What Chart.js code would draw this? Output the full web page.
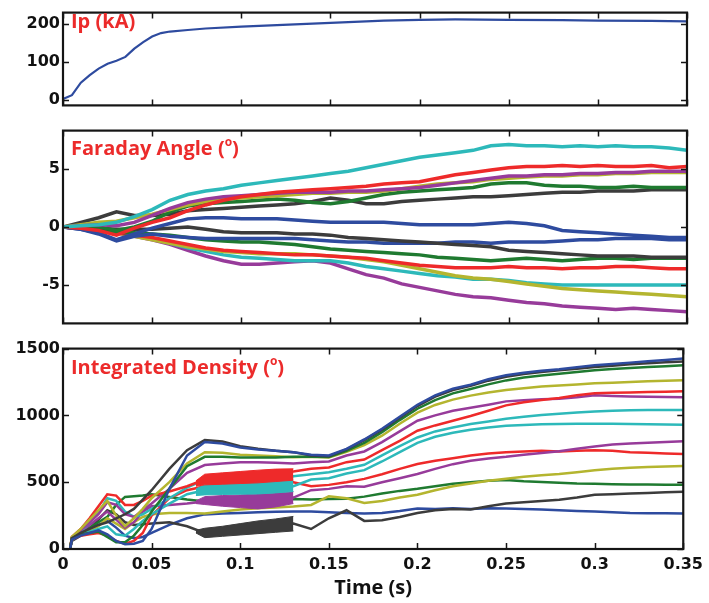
<!DOCTYPE html>
<html>
<head>
<meta charset="utf-8">
<script src="https://cdn.jsdelivr.net/npm/chart.js@4.4.0/dist/chart.umd.min.js"></script>
<style>
body { margin: 0; background: #fff; }
#wrap { position: relative; width: 709px; height: 603px; overflow: hidden; }
canvas { position: absolute; left: 0; }
.lbl { position: absolute; left: 71px; font-family: 'Open Sans', sans-serif; font-weight: bold; font-size: 20px; line-height: 20px; color: #ec2b2b; white-space: nowrap; }
.lbl sup { font-size: 12px; line-height: 0; vertical-align: 9px; }
</style>
</head>
<body>
<div id="wrap">
  <canvas id="ipC" width="709" height="118" style="top:0px"></canvas>
  <canvas id="farC" width="709" height="218" style="top:118px"></canvas>
  <canvas id="denC" width="709" height="267" style="top:336px"></canvas>
  <div class="lbl" style="top:11px">Ip (kA)</div>
  <div class="lbl" style="top:138px">Faraday Angle (<sup>o</sup>)</div>
  <div class="lbl" style="top:357px">Integrated Density (<sup>o</sup>)</div>
</div>
<script>
// ---- data ----
var xTicks = [0, 0.05, 0.1, 0.15, 0.2, 0.25, 0.3, 0.35];

// plasma current
var ipTimes = [0, .005, .01, .015, .02, .025, .03, .035, .04, .045, .05, .055, .06, .07, .08, .1, .12, .14, .16, .18, .2, .22, .25, .28, .3, .33, .35];
var ipVals = [2, 12, 45, 65, 82, 95, 103, 113, 135, 152, 167, 176, 180, 184, 188, 193, 197, 201, 205, 209, 211, 212, 211, 210, 209, 208, 207];

// faraday angle, one sample every 10 ms
var farTimes = [0, .01, .02, .03, .04, .05, .06, .07, .08, .09, .10, .11, .12, .13, .14, .15, .16, .17, .18, .19, .20, .21, .22, .23, .24, .25, .26, .27, .28, .29, .30, .31, .32, .33, .34, .35];
var farCyanU = [0, 0.1, 0.2, 0.4, 0.9, 1.5, 2.3, 2.8, 3.1, 3.3, 3.6, 3.8, 4.0, 4.2, 4.4, 4.6, 4.8, 5.1, 5.4, 5.7, 6.0, 6.2, 6.4, 6.6, 7.0, 7.1, 7.0, 7.0, 6.9, 7.0, 6.9, 7.0, 6.9, 6.9, 6.8, 6.6];
var farRedU = [0, -0.1, -0.3, -0.7, -0.1, 0.4, 0.8, 1.4, 1.9, 2.3, 2.6, 2.8, 3.0, 3.1, 3.2, 3.3, 3.4, 3.5, 3.7, 3.8, 3.9, 4.2, 4.5, 4.7, 4.9, 5.1, 5.2, 5.2, 5.3, 5.2, 5.3, 5.2, 5.2, 5.3, 5.1, 5.2];
var farPurpleU = [0, 0.1, 0.2, 0.1, 0.4, 1.0, 1.6, 2.1, 2.4, 2.6, 2.7, 2.8, 2.9, 3.0, 3.0, 3.0, 3.1, 3.1, 3.2, 3.3, 3.4, 3.6, 3.8, 4.0, 4.2, 4.4, 4.4, 4.5, 4.5, 4.6, 4.6, 4.7, 4.7, 4.8, 4.8, 4.8];
var farOliveU = [0, 0.2, 0.4, 0.5, 0.8, 1.1, 1.5, 1.9, 2.2, 2.4, 2.5, 2.6, 2.7, 2.8, 2.9, 2.9, 3.0, 3.0, 3.1, 3.3, 3.5, 3.7, 3.8, 3.9, 4.1, 4.2, 4.3, 4.4, 4.4, 4.5, 4.5, 4.6, 4.6, 4.7, 4.7, 4.7];
var farGreenU = [0, 0.1, 0.0, -0.3, 0.0, 0.5, 1.3, 1.8, 2.0, 2.1, 2.2, 2.3, 2.4, 2.3, 2.1, 2.0, 2.2, 2.5, 2.8, 3.0, 3.1, 3.2, 3.3, 3.4, 3.7, 3.8, 3.8, 3.6, 3.5, 3.5, 3.4, 3.4, 3.5, 3.4, 3.4, 3.4];
var farGrayU = [0, 0.4, 0.8, 1.3, 1.0, 1.0, 1.1, 1.4, 1.5, 1.6, 1.7, 1.8, 1.9, 2.0, 2.2, 2.5, 2.3, 2.0, 2.0, 2.2, 2.3, 2.4, 2.5, 2.6, 2.6, 2.7, 2.8, 2.9, 3.0, 3.0, 3.1, 3.1, 3.1, 3.2, 3.2, 3.2];
var farBlueU = [0, -0.2, -0.5, -1.1, -0.6, -0.1, 0.3, 0.7, 0.8, 0.8, 0.7, 0.7, 0.7, 0.6, 0.5, 0.4, 0.4, 0.4, 0.4, 0.3, 0.2, 0.2, 0.2, 0.2, 0.3, 0.4, 0.3, 0.1, -0.3, -0.4, -0.5, -0.6, -0.7, -0.8, -0.9, -0.9];
var farGrayL = [0, -0.1, -0.1, -0.2, -0.2, -0.2, -0.1, 0.0, -0.2, -0.4, -0.5, -0.5, -0.5, -0.6, -0.6, -0.7, -0.9, -1.0, -1.1, -1.2, -1.3, -1.4, -1.5, -1.6, -1.7, -2.0, -2.1, -2.2, -2.3, -2.4, -2.5, -2.5, -2.5, -2.6, -2.6, -2.6];
var farBlueL = [0, -0.2, -0.6, -1.2, -0.8, -0.6, -0.8, -0.9, -1.0, -1.0, -1.0, -1.0, -1.0, -1.0, -1.1, -1.2, -1.3, -1.3, -1.4, -1.4, -1.4, -1.4, -1.3, -1.3, -1.4, -1.3, -1.3, -1.3, -1.2, -1.1, -1.1, -1.0, -1.0, -1.0, -1.1, -1.1];
var farGreenL = [0, 0.0, -0.2, -0.5, -0.5, -0.6, -0.7, -0.9, -1.1, -1.2, -1.3, -1.3, -1.4, -1.5, -1.7, -1.9, -2.0, -2.1, -2.2, -2.3, -2.4, -2.6, -2.7, -2.8, -2.9, -2.8, -2.7, -2.8, -2.9, -2.8, -2.7, -2.7, -2.8, -2.7, -2.7, -2.7];
var farRedL = [0, -0.1, -0.2, -0.5, -0.7, -0.9, -1.2, -1.5, -1.8, -2.0, -2.1, -2.2, -2.3, -2.4, -2.4, -2.5, -2.6, -2.7, -2.9, -3.1, -3.3, -3.4, -3.5, -3.5, -3.5, -3.4, -3.5, -3.5, -3.6, -3.5, -3.5, -3.4, -3.4, -3.5, -3.6, -3.6];
var farOliveL = [0, -0.1, -0.3, -0.5, -0.8, -1.1, -1.4, -1.7, -1.9, -2.1, -2.2, -2.3, -2.3, -2.3, -2.4, -2.5, -2.6, -2.8, -3.0, -3.3, -3.6, -3.9, -4.2, -4.4, -4.5, -4.7, -4.9, -5.1, -5.3, -5.4, -5.5, -5.6, -5.7, -5.8, -5.9, -6.0];
var farCyanL = [0, 0.1, 0.0, -0.4, -0.7, -1.0, -1.4, -1.8, -2.1, -2.4, -2.6, -2.7, -2.8, -2.9, -2.9, -2.9, -3.1, -3.4, -3.6, -3.8, -4.0, -4.2, -4.3, -4.5, -4.5, -4.6, -4.8, -4.9, -5.0, -5.0, -5.0, -5.0, -5.0, -5.0, -5.0, -5.0];
var farPurpleL = [0, -0.1, -0.2, -0.5, -0.8, -1.1, -1.5, -2.0, -2.5, -2.9, -3.2, -3.2, -3.1, -3.0, -2.9, -3.1, -3.6, -4.1, -4.4, -4.9, -5.2, -5.5, -5.8, -6.0, -6.1, -6.3, -6.5, -6.6, -6.8, -6.9, -7.0, -7.1, -7.0, -7.1, -7.2, -7.3];

// integrated density: starts at 4 ms, 5 ms steps early then 10 ms
var denTimes = [.004, .005, .01, .015, .02, .025, .03, .035, .04, .045, .05, .06, .07, .08, .09, .10, .11, .12, .13, .14, .15, .16, .17, .18, .19, .20, .21, .22, .23, .24, .25, .26, .27, .28, .29, .30, .31, .32, .33, .34, .35];
var denBlueTop = [0, 70, 100, 120, 140, 110, 60, 35, 40, 60, 150, 450, 700, 800, 790, 760, 745, 735, 725, 705, 700, 750, 820, 900, 990, 1080, 1150, 1200, 1230, 1270, 1300, 1320, 1335, 1345, 1360, 1375, 1385, 1395, 1405, 1415, 1426];
var denGrayTop = [0, 80, 120, 150, 180, 200, 230, 260, 300, 370, 440, 600, 740, 815, 805, 770, 750, 735, 725, 700, 695, 745, 815, 893, 983, 1070, 1140, 1190, 1222, 1260, 1290, 1310, 1325, 1337, 1350, 1362, 1372, 1382, 1390, 1397, 1404];
var denGreenTop = [0, 80, 110, 120, 130, 90, 50, 50, 100, 180, 280, 450, 620, 690, 690, 685, 685, 685, 690, 690, 688, 735, 795, 875, 965, 1050, 1115, 1165, 1198, 1232, 1262, 1283, 1298, 1311, 1325, 1338, 1347, 1355, 1362, 1368, 1375];
var denOliveTop = [0, 90, 150, 220, 290, 360, 250, 170, 230, 300, 380, 500, 640, 724, 720, 705, 700, 695, 687, 690, 685, 728, 778, 848, 938, 1020, 1078, 1118, 1148, 1172, 1190, 1204, 1216, 1224, 1232, 1240, 1245, 1250, 1255, 1260, 1264];
var denPurpleTop = [0, 80, 140, 200, 260, 350, 330, 260, 240, 290, 340, 450, 570, 628, 640, 650, 650, 645, 640, 650, 655, 700, 730, 800, 880, 960, 1000, 1035, 1058, 1080, 1105, 1113, 1120, 1125, 1135, 1150, 1146, 1142, 1140, 1138, 1135];
var denRedTop = [0, 90, 150, 230, 320, 410, 400, 330, 330, 360, 400, 430, 470, 520, 535, 550, 560, 570, 580, 600, 610, 650, 670, 740, 810, 885, 925, 960, 995, 1035, 1075, 1098, 1115, 1131, 1150, 1165, 1170, 1172, 1175, 1177, 1180];
var denCyanTop = [0, 80, 130, 200, 270, 380, 360, 280, 240, 260, 300, 380, 460, 520, 530, 540, 545, 545, 545, 560, 575, 600, 630, 700, 770, 835, 880, 910, 935, 955, 975, 990, 1003, 1013, 1022, 1030, 1035, 1038, 1040, 1040, 1040];
var denCyan2 = [0, 70, 110, 130, 150, 170, 110, 100, 150, 210, 260, 340, 410, 440, 450, 460, 465, 470, 470, 520, 530, 565, 590, 655, 725, 795, 840, 870, 893, 910, 922, 928, 933, 936, 938, 938, 937, 935, 933, 932, 930];
var denPurple2 = [0, 80, 130, 180, 230, 280, 220, 160, 200, 280, 320, 330, 340, 355, 365, 370, 375, 380, 385, 440, 450, 470, 466, 500, 530, 562, 600, 635, 660, 678, 690, 705, 718, 732, 750, 768, 783, 790, 795, 800, 806];
var denRed2 = [0, 70, 100, 110, 120, 100, 60, 40, 60, 120, 250, 380, 440, 470, 480, 490, 495, 500, 500, 470, 480, 500, 525, 560, 600, 636, 660, 680, 700, 715, 724, 730, 735, 730, 735, 739, 735, 725, 720, 715, 712];
var denOlive2 = [0, 70, 110, 140, 170, 230, 190, 150, 200, 240, 260, 270, 270, 266, 280, 295, 305, 310, 318, 330, 395, 380, 345, 360, 385, 406, 440, 470, 490, 510, 525, 540, 552, 562, 575, 590, 600, 608, 614, 618, 621];
var denGreen2 = [0, 80, 120, 160, 200, 240, 330, 390, 395, 400, 410, 390, 370, 355, 360, 365, 365, 370, 375, 370, 375, 377, 392, 415, 435, 451, 470, 488, 500, 510, 517, 508, 502, 495, 490, 488, 485, 483, 482, 481, 480];
var denGray2 = [0, 60, 100, 150, 220, 290, 260, 200, 180, 185, 190, 200, 170, 120, 130, 150, 165, 180, 190, 150, 230, 290, 210, 215, 240, 270, 290, 300, 296, 320, 340, 350, 360, 369, 385, 406, 410, 415, 420, 425, 429];
var denBlue2 = [0, 70, 110, 150, 180, 210, 160, 100, 80, 90, 120, 180, 230, 259, 265, 270, 275, 278, 281, 280, 275, 270, 266, 270, 285, 303, 300, 305, 300, 305, 303, 300, 295, 290, 285, 281, 275, 270, 268, 267, 266];

// oscillating stretches 75-130 ms, low and high edge
var bandTimes = [0.075, 0.08, 0.09, 0.10, 0.11, 0.12, 0.13];
var redBandLo = [470, 480, 485, 490, 495, 505, 515];
var redBandHi = [510, 560, 570, 580, 590, 598, 600];
var cyanBandLo = [400, 405, 408, 410, 412, 420, 430];
var cyanBandHi = [450, 480, 495, 510, 520, 530, 540];
var purpleBandLo = [340, 333, 320, 310, 300, 315, 340];
var purpleBandHi = [360, 392, 400, 405, 412, 420, 429];
var grayBandLo = [120, 85, 95, 105, 115, 125, 135];
var grayBandHi = [140, 155, 170, 190, 210, 225, 244];

var col = {
    blue: '#2e4b9f',
    green: '#1f7a30',
    red: '#ee2a2a',
    cyan: '#2db9ba',
    purple: '#973b9a',
    olive: '#b4b52f',
    gray: '#3c3c3c'
};

// ---- helpers ----
function pts(times, vals) {
    return vals.map(function (v, i) { return { x: times[i], y: v }; });
}
function line(color, times, vals, w) {
    return { data: pts(times, vals), borderColor: color, borderWidth: w, pointRadius: 0, fill: false };
}

var tickFont = { family: 'DejaVu Sans', weight: 'bold', size: 16 };

// black box + inward ticks on all four sides
var framePlugin = {
    id: 'frame',
    afterDatasetsDraw: function (chart) {
        var a = chart.chartArea, c = chart.ctx;
        var sx = chart.scales.x, sy = chart.scales.y;
        c.save();
        c.strokeStyle = '#151515';
        c.lineWidth = 1.5;
        c.beginPath();
        sx.ticks.forEach(function (t) {
            var p = Math.round(sx.getPixelForValue(t.value)) + 0.5;
            c.moveTo(p, a.bottom); c.lineTo(p, a.bottom - 6);
            c.moveTo(p, a.top); c.lineTo(p, a.top + 6);
        });
        sy.ticks.forEach(function (t) {
            var p = Math.round(sy.getPixelForValue(t.value)) + 0.5;
            c.moveTo(a.left, p); c.lineTo(a.left + 6, p);
            c.moveTo(a.right, p); c.lineTo(a.right - 6, p);
        });
        c.stroke();
        c.lineWidth = 2.2;
        c.strokeRect(a.left, a.top, a.right - a.left, a.bottom - a.top);
        c.restore();
    }
};

function xScale(showLabels) {
    return {
        type: 'linear', min: 0, max: 0.35,
        grid: { display: false, drawTicks: false },
        border: { display: false },
        afterBuildTicks: function (s) { s.ticks = xTicks.map(function (v) { return { value: v }; }); },
        afterFit: function (s) { s.height = showLabels ? 51 : 0; },
        ticks: {
            display: showLabels, padding: 6, color: '#111', font: tickFont, maxRotation: 0,
            callback: function (v) { return String(+v.toFixed(2)); }
        },
        title: {
            display: showLabels, text: 'Time (s)', color: '#111',
            font: { family: 'Open Sans', weight: 'bold', size: 20 },
            padding: { top: 0, bottom: 0 }
        }
    };
}
function yScale(min, max, vals) {
    return {
        min: min, max: max,
        grid: { display: false, drawTicks: false },
        border: { display: false },
        afterBuildTicks: function (s) { s.ticks = vals.map(function (v) { return { value: v }; }); },
        afterFit: function (s) { s.width = 63; },
        ticks: { padding: 3, color: '#111', font: tickFont, callback: function (v) { return String(v); } }
    };
}
function baseOptions(pad, xs, ys) {
    return {
        responsive: false,
        animation: false,
        events: [],
        layout: { padding: pad },
        plugins: { legend: { display: false }, tooltip: { enabled: false } },
        scales: { x: xs, y: ys }
    };
}

// ---- Ip ----
new Chart(document.getElementById('ipC'), {
    type: 'line',
    data: { datasets: [line(col.blue, ipTimes, ipVals, 2.2)] },
    options: baseOptions({ top: 8, bottom: 7, left: 0, right: 22 }, xScale(false), yScale(-15, 230, [0, 100, 200])),
    plugins: [framePlugin]
});

// ---- Faraday angle ----
var W2 = 3.5;
new Chart(document.getElementById('farC'), {
    type: 'line',
    data: {
        datasets: [
            line(col.cyan, farTimes, farCyanU, W2),
            line(col.red, farTimes, farRedU, W2),
            line(col.purple, farTimes, farPurpleU, W2),
            line(col.olive, farTimes, farOliveU, W2),
            line(col.green, farTimes, farGreenU, W2),
            line(col.gray, farTimes, farGrayU, W2),
            line(col.blue, farTimes, farBlueU, W2),
            line(col.gray, farTimes, farGrayL, W2),
            line(col.blue, farTimes, farBlueL, W2),
            line(col.green, farTimes, farGreenL, W2),
            line(col.red, farTimes, farRedL, W2),
            line(col.olive, farTimes, farOliveL, W2),
            line(col.cyan, farTimes, farCyanL, W2),
            line(col.purple, farTimes, farPurpleL, W2)
        ]
    },
    options: baseOptions({ top: 5, bottom: 6, left: 0, right: 22 }, xScale(false), yScale(-8.3, 8.3, [-5, 0, 5])),
    plugins: [framePlugin]
});

// ---- integrated density ----
function band(color, lo, hi) {
    return [
        { data: pts(bandTimes, lo), borderColor: color, borderWidth: 1, pointRadius: 0, fill: false },
        { data: pts(bandTimes, hi), borderColor: color, borderWidth: 1, pointRadius: 0, backgroundColor: color, fill: '-1' }
    ];
}
var W3 = 2.5;
var denSets = [
    line(col.blue, denTimes, denBlueTop, W3),
    line(col.gray, denTimes, denGrayTop, W3),
    line(col.green, denTimes, denGreenTop, W3),
    line(col.olive, denTimes, denOliveTop, W3),
    line(col.red, denTimes, denRedTop, W3),
    line(col.purple, denTimes, denPurpleTop, W3),
    line(col.cyan, denTimes, denCyanTop, W3),
    line(col.cyan, denTimes, denCyan2, W3),
    line(col.purple, denTimes, denPurple2, W3),
    line(col.red, denTimes, denRed2, W3),
    line(col.olive, denTimes, denOlive2, W3),
    line(col.green, denTimes, denGreen2, W3),
    line(col.gray, denTimes, denGray2, W3),
    line(col.blue, denTimes, denBlue2, W3)
];
denSets = band(col.red, redBandLo, redBandHi)
    .concat(band(col.cyan, cyanBandLo, cyanBandHi))
    .concat(band(col.purple, purpleBandLo, purpleBandHi))
    .concat(band(col.gray, grayBandLo, grayBandHi))
    .concat(denSets);

new Chart(document.getElementById('denC'), {
    type: 'line',
    data: { datasets: denSets },
    options: baseOptions({ top: 9, bottom: 3, left: 0, right: 22 }, xScale(true), yScale(0, 1500, [0, 500, 1000, 1500])),
    plugins: [framePlugin]
});
</script>
</body>
</html>
